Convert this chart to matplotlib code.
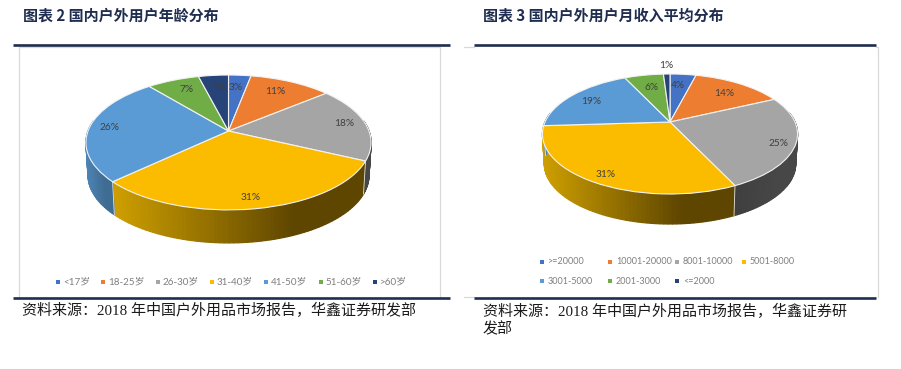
import numpy as np
import matplotlib
matplotlib.use("Agg")
import matplotlib.pyplot as plt
from matplotlib.colors import to_rgb
from matplotlib.transforms import Transform

# ---- data ----
age_labels = ["<17岁", "18-25岁", "26-30岁", "31-40岁", "41-50岁", "51-60岁", ">60岁"]
age_values = [3, 11, 18, 31, 26, 7, 4]
income_labels = [">=20000", "10001-20000", "8001-10000", "5001-8000",
                 "3001-5000", "2001-3000", "<=2000"]
income_values = [4, 14, 25, 31, 19, 6, 1]
title_left = "图表 2 国内户外用户年龄分布"
title_right = "图表 3 国内户外用户月收入平均分布"
source_left = "资料来源：2018 年中国户外用品市场报告，华鑫证券研发部"
source_right = "资料来源：2018 年中国户外用品市场报告，华鑫证券研\n发部"
colors = ["#4472C4", "#ED7D31", "#A5A5A5", "#FBBC00", "#5B9BD5", "#70AD47", "#264478"]

# wall colours: (colour at left end of the slice's visible wall, at right end)
wall_colors = [None, None,
               ("#3f3f3f", "#474747"),
               ("#CFA000", "#5F4600"),
               ("#4E85B5", "#3F6C93"),
               None, None]

NAVY = "#1F2D50"
SERIF = ["Liberation Serif", "Noto Sans CJK SC"]
SANS = ["Noto Sans CJK SC"]
LEG = ["Lato", "Noto Sans CJK SC"]

plt.rcParams["font.family"] = ["Noto Sans CJK SC", "DejaVu Sans"]

fig = plt.figure(figsize=(9.01, 3.69), dpi=100, facecolor="white")
ax = fig.add_axes([0, 0, 1, 1])


class Tilt(Transform):
    """Unit circle -> tilted disc with perspective, in pixel-style data units."""
    input_dims = output_dims = 2
    is_separable = False

    def __init__(self, cx, cy, a, b, k):
        super().__init__()
        self.p = (cx, cy, a, b, k)

    def transform_non_affine(self, xy):
        cx, cy, a, b, k = self.p
        xy = np.asarray(xy, float)
        w = 1 + k * xy[:, 1]
        return np.column_stack([cx + a * xy[:, 0] / w, cy - b * xy[:, 1] / w])


def draw_pie(values, cx, cy, a, b, k, depth, label_xy, label_color="#404040"):
    tilt = Tilt(cx, cy, a, b, k)
    wedges, _ = ax.pie(values, colors=colors, startangle=90, counterclock=False,
                       wedgeprops=dict(edgecolor="#F2F2F2", linewidth=0.8))

    def wall_xy(t):
        top = tilt.transform_non_affine(np.column_stack([np.cos(t), np.sin(t)]))
        bot = top + [0, depth]
        bot[:, 0] = cx + (bot[:, 0] - cx) * 0.985
        return top, bot

    # side wall
    for i, w in enumerate(wedges):
        ts = np.radians(np.linspace(w.theta1, w.theta2, 70))
        ts = ts[np.sin(ts) < 0.17]
        if len(ts) < 2:
            continue
        x_all = wall_xy(ts)[0][:, 0]
        lo, hi = x_all.min(), x_all.max()
        for j in range(len(ts) - 1):
            top, bot = wall_xy(ts[j:j + 2])
            wc = wall_colors[i]
            if wc is None:
                col = np.array(to_rgb(colors[i])) * 0.7
            else:
                f = min((top[:, 0].mean() - lo) / max(hi - lo, 1) / 0.72, 1)
                col = (1 - f) * np.array(to_rgb(wc[0])) + f * np.array(to_rgb(wc[1]))
            ax.fill(np.r_[top[:, 0], bot[::-1, 0]], np.r_[top[:, 1], bot[::-1, 1]],
                    facecolor=col, edgecolor=col, lw=0.9, zorder=1)
    # light seams where one slice's wall meets the next
    for w in wedges:
        t = np.radians(np.array([w.theta1]))
        if np.sin(t)[0] < 0.05:
            top, bot = wall_xy(t)
            ax.plot([top[0, 0], bot[0, 0]], [top[0, 1], bot[0, 1]],
                    color="#E4E4E4", lw=0.6, zorder=1.5)
    for w in wedges:
        w.set_transform(tilt + ax.transData)
        w.set_zorder(2)
    for v, (x, y) in zip(values, label_xy):
        ax.text(x, y, f"{v}%", ha="center", va="center", fontsize=7.3,
                family=LEG, color=label_color, zorder=4)


draw_pie(age_values, 228.5, 131, 140.5, 65.5, 0.17, 33,
         [(236, 87), (275, 92), (344, 124), (251, 198), (110, 127), (187, 90), (219, 87)])
draw_pie(income_values, 670, 122, 125, 57.6, 0.20, 30,
         [(678, 86), (724, 93), (779, 143), (606, 174.5), (591, 102), (652, 87), (666, 65)])

ax.set_aspect("auto")
ax.set_xlim(0, 901)
ax.set_ylim(369, 0)
ax.axis("off")

# chart frames
ax.plot([18.5, 18.5, 439.5, 439.5], [298, 46.5, 46.5, 298], color="#D9D9D9", lw=0.9, zorder=0)
ax.plot([876, 877.5, 877.5], [46.5, 46.5, 297], color="#D9D9D9", lw=0.9, zorder=0)
ax.plot([464, 474], [296.5, 296.5], color="#D9D9D9", lw=0.9, zorder=0)
ax.plot([464, 474], [46.5, 46.5], color="#D9D9D9", lw=0.9, zorder=0)

# rules
for x0, x1 in [(13, 450), (474, 876)]:
    ax.plot([x0, x1], [45.2, 45.2], color=NAVY, lw=1.9, solid_capstyle="butt", zorder=5)
    ax.plot([x0, x1], [298, 298], color=NAVY, lw=1.9, solid_capstyle="butt", zorder=5)

# titles
ax.text(23, 15.5, title_left, fontsize=10.8, fontweight="bold", color=NAVY, va="center", family=SANS)
ax.text(483, 15.5, title_right, fontsize=10.8, fontweight="bold", color=NAVY, va="center", family=SANS)

# sources
ax.text(22, 310, source_left, fontsize=10.8, color="#1a1a1a", va="center", family=SERIF)
ax.text(483, 320, source_right, fontsize=10.8, color="#1a1a1a", va="center", family=SERIF,
        linespacing=1.29)

# legends
LEGEND_TXT = "#7F7F7F"


def legend_item(x, y, text, color, gap, size):
    ax.scatter([x], [y], marker="s", s=7, color=color, linewidths=0, zorder=5)
    ax.text(x + gap, y, text, fontsize=size, color=LEGEND_TXT, va="center", family=LEG, zorder=5)


left_x = [58, 103, 158, 212, 266, 321, 375]
for x, t, c in zip(left_x, age_labels, colors):
    legend_item(x, 282, t, c, 5, 7.1)

right_x = [542, 610, 677, 744, 542, 610, 677]
right_y = [262, 262, 262, 262, 281, 281, 281]
for x, y, t, c in zip(right_x, right_y, income_labels, colors):
    legend_item(x, y, t, c, 6, 6.5)

fig.savefig("out.png", dpi=100)
